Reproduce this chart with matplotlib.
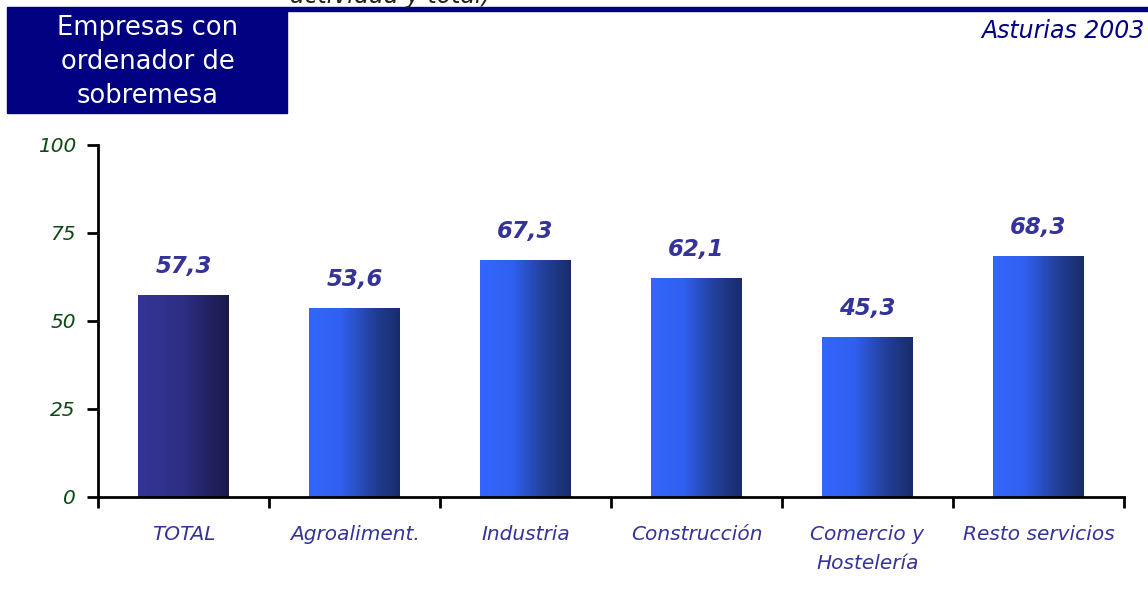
import matplotlib
matplotlib.use("Agg")
import matplotlib.pyplot as plt
import numpy as np
from matplotlib.colors import LinearSegmentedColormap
from matplotlib.patches import Rectangle

categories = ["TOTAL", "Agroaliment.", "Industria", "Construcción", "Comercio y\nHostelería", "Resto servicios"]
values = [57.3, 53.6, 67.3, 62.1, 45.3, 68.3]
value_labels = ["57,3", "53,6", "67,3", "62,1", "45,3", "68,3"]
yticks = [0, 25, 50, 75, 100]

NAVY = "#000080"
LABEL_BLUE = "#333399"
TICK_GREEN = "#0B4A12"

plt.rcParams['font.family'] = ['DejaVu Sans']

fig = plt.figure(figsize=(11.48, 5.95), dpi=100)
ax = fig.add_axes([98/1148, 1-497/595, (1124-98)/1148, (497-145)/595])

x = np.arange(len(categories))
bars = ax.bar(x, values, width=0.53, color="none", edgecolor="none", zorder=2)

cmap_total = LinearSegmentedColormap.from_list("tot", ["#343498", "#2E2E85", "#1A1A48"])
cmap_other = LinearSegmentedColormap.from_list("oth", [(0, "#3366FF"), (0.35, "#3060F0"), (0.7, "#22409A"), (1, "#192C6A")])
grad = np.linspace(0, 1, 256).reshape(1, -1)
for i, b in enumerate(bars):
    x0, y0 = b.get_x(), b.get_y()
    w, h = b.get_width(), b.get_height()
    cm = cmap_total if i == 0 else cmap_other
    ax.imshow(grad, cmap=cm, aspect="auto", extent=(x0, x0 + w, y0, y0 + h),
              interpolation="bicubic", zorder=2)
    ax.text(b.get_x() + w / 2, h + 5.0, value_labels[i], ha="center", va="bottom",
            fontsize=16.5, style="italic", fontweight="bold", color=LABEL_BLUE, zorder=3)

ax.set_xlim(-0.5, len(categories) - 0.5)
ax.set_ylim(0, 100)
ax.set_yticks(yticks)
ax.set_yticklabels([str(v) for v in yticks], fontsize=14.5, style="italic", color=TICK_GREEN)
ax.set_xticks(x)
ax.set_xticklabels(categories, fontsize=14.5, style="italic", color=LABEL_BLUE, linespacing=1.65)
ax.set_xticks(np.arange(-0.5, len(categories)), minor=True)
ax.tick_params(axis="x", which="major", length=0, pad=20)
ax.tick_params(axis="x", which="minor", length=8, width=2, direction="out")
ax.tick_params(axis="y", length=8, width=2, direction="out", pad=8)
for s in ["top", "right"]:
    ax.spines[s].set_visible(False)
for s in ["left", "bottom"]:
    ax.spines[s].set_linewidth(2)
    ax.spines[s].set_color("black")

# Header
fig.patches.append(Rectangle((287/1148, 1-11/595), 1 - 287/1148, 4/595, transform=fig.transFigure,
                             color=NAVY, zorder=1))
fig.patches.append(Rectangle((7/1148, 1-113/595), 280/1148, 106/595, transform=fig.transFigure,
                             color=NAVY, zorder=1))
fig.text(148/1148, 1-62/595, "Empresas con\nordenador de\nsobremesa", ha="center", va="center",
         color="white", fontsize=18.5, linespacing=1.38)
fig.text(1145/1148, 1-31/595, "Asturias 2003", ha="right", va="center", color=NAVY,
         fontsize=17, style="italic")
fig.text(290/1148, 1-(-4)/595, "actividad y total)", ha="left", va="center", color="#222222",
         fontsize=17, style="italic")

fig.savefig("out.png", dpi=100)
